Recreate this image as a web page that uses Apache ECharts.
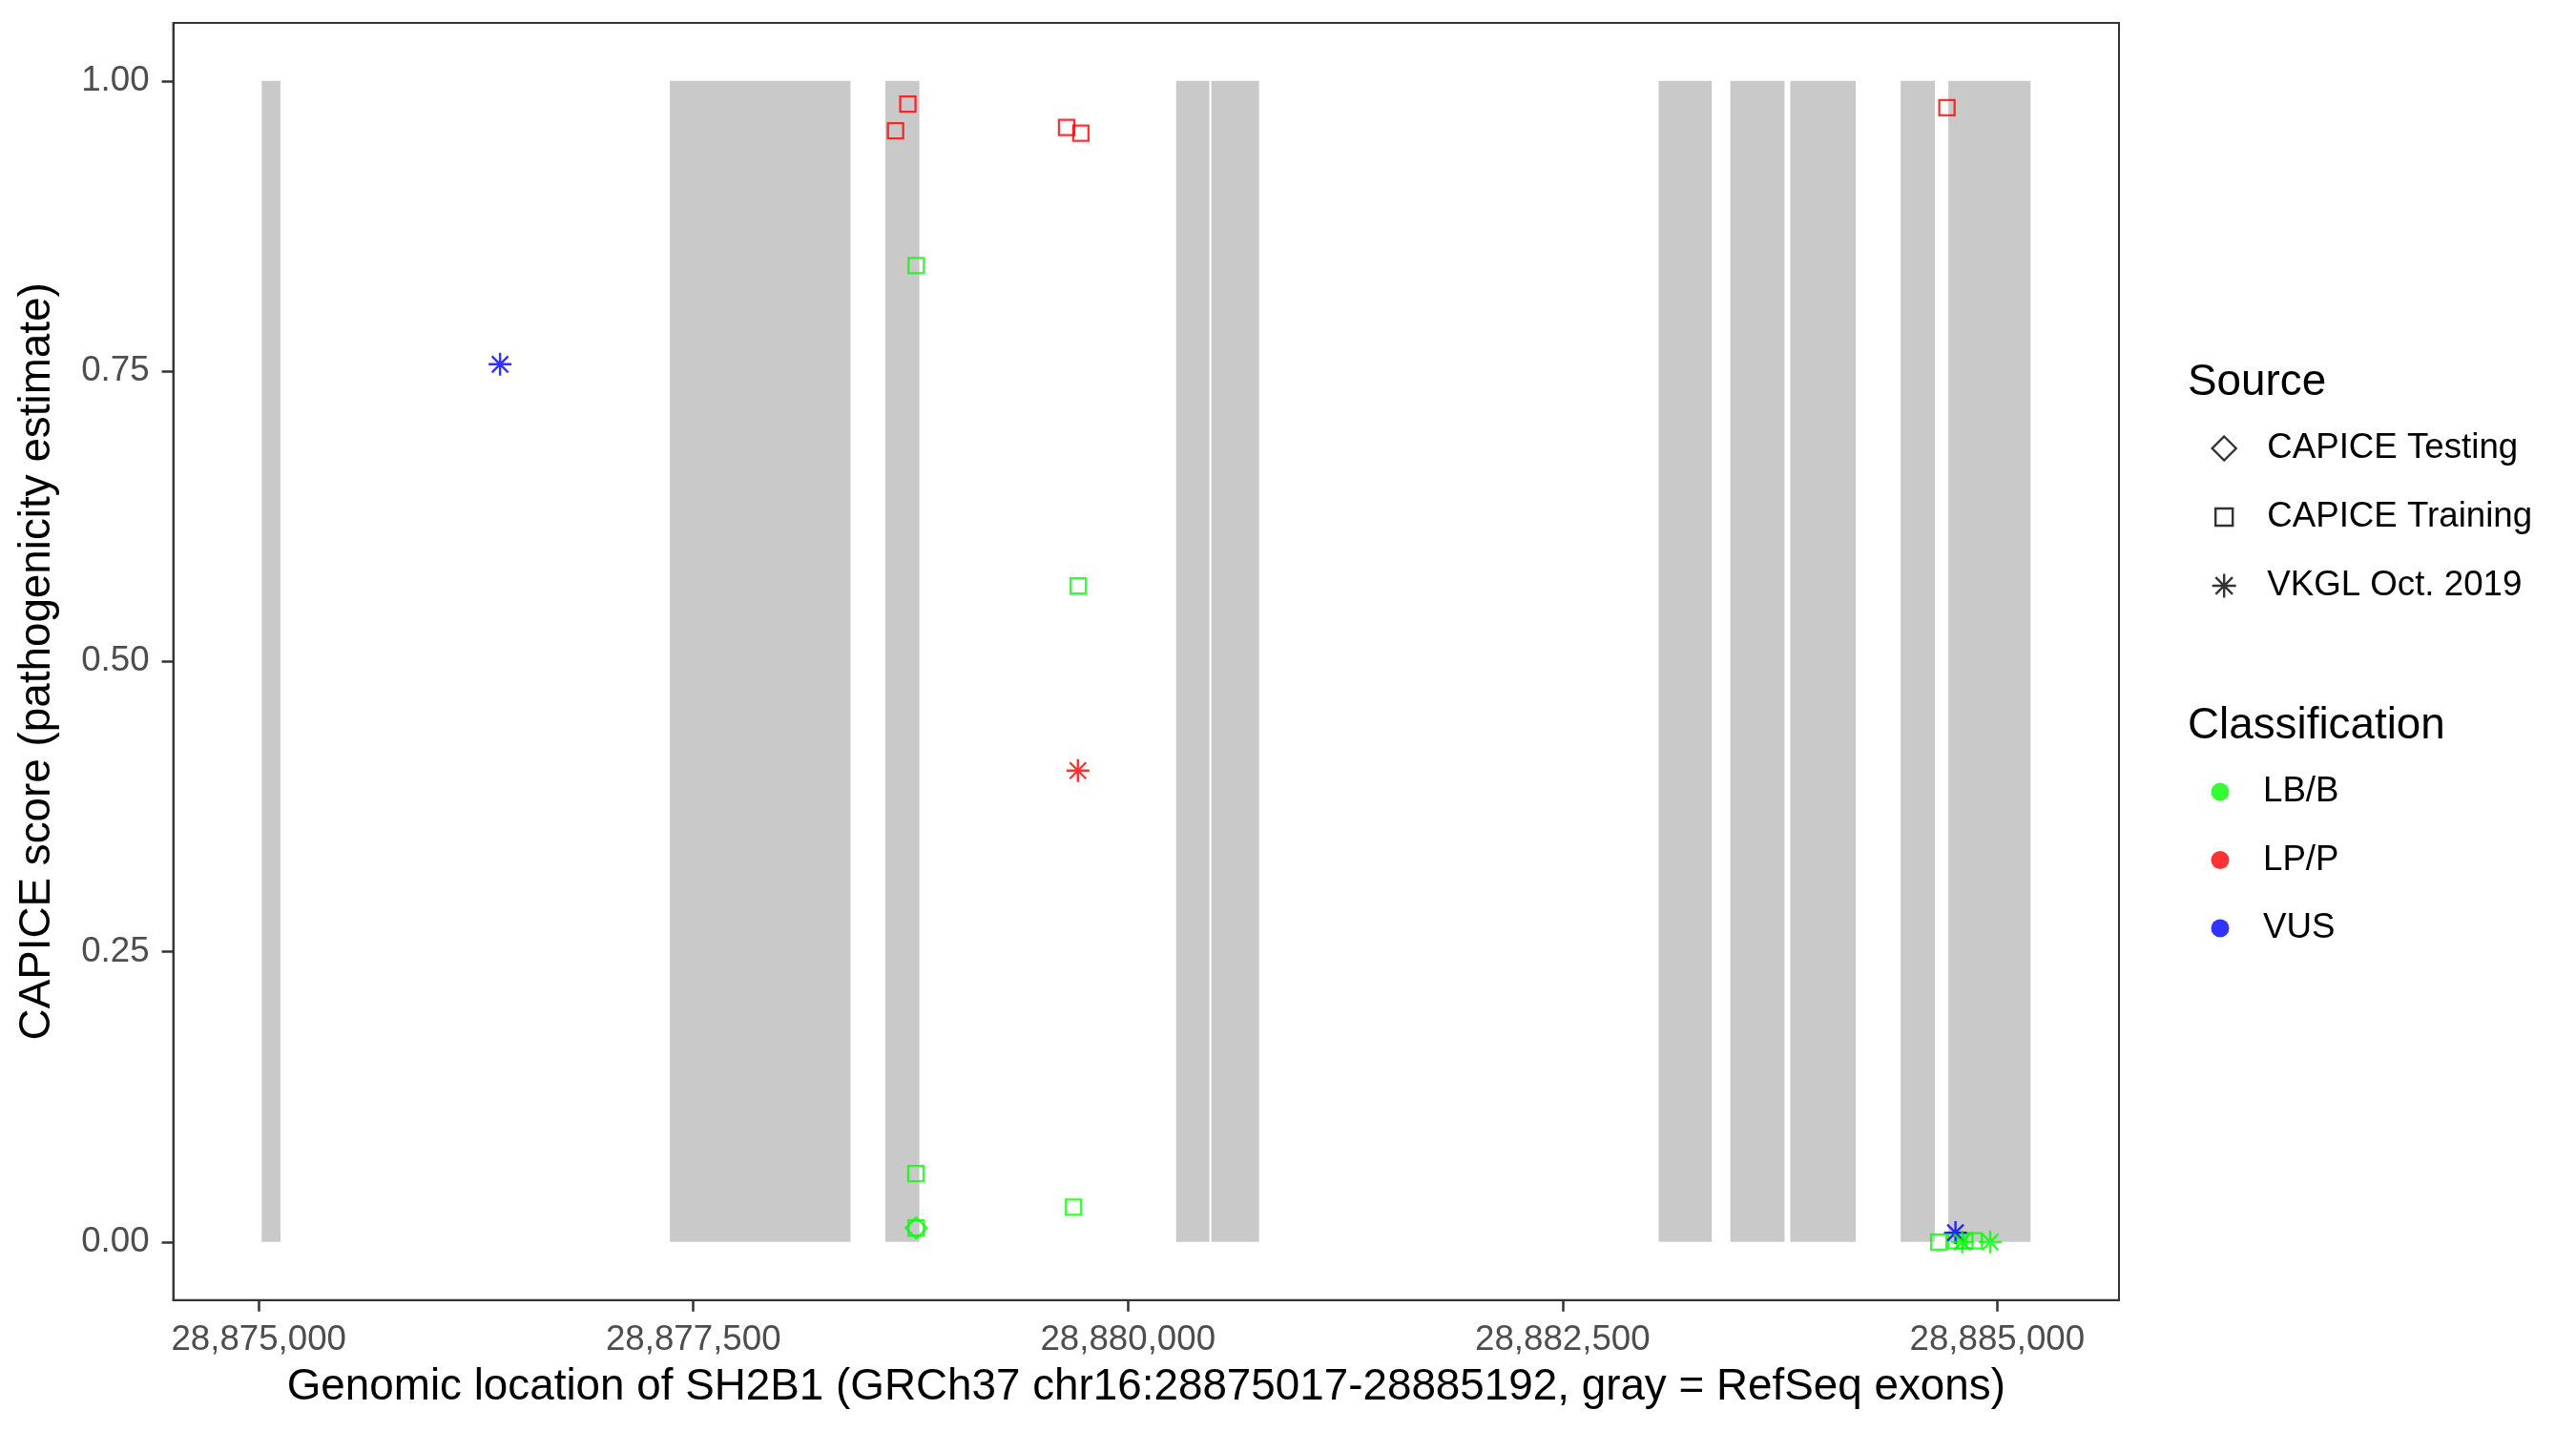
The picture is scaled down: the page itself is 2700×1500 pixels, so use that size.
<!DOCTYPE html>
<html>
<head>
<meta charset="utf-8">
<script src="https://cdn.jsdelivr.net/npm/echarts@6/dist/echarts.min.js"></script>
<style>
  html, body { margin: 0; padding: 0; background: #fff; }
  #chart { width: 2700px; height: 1500px; }
</style>
</head>
<body>
<div id="chart"></div>
<script>
// ---- Data ----
const exonStart = [28875017, 28877365, 28878604, 28880277, 28880480, 28883053, 28883465, 28883810, 28884445, 28884719];
const exonEnd   = [28875125, 28878404, 28878800, 28880468, 28880754, 28883358, 28883777, 28884186, 28884642, 28885192];

const xTicks = [28875000, 28877500, 28880000, 28882500, 28885000];
const yTicks = [0, 0.25, 0.5, 0.75, 1];

const trainingPos   = [28878663, 28878734, 28879647, 28879729, 28884711, 28878782, 28878780, 28878782, 28879687, 28879714, 28884664, 28884763, 28884814, 28884868];
const trainingScore = [0.957, 0.980, 0.960, 0.955, 0.977, 0.841, 0.059, 0.012, 0.030, 0.565, 0.000, 0.001, 0.001, 0.001];
const trainingClass = ['LP/P', 'LP/P', 'LP/P', 'LP/P', 'LP/P', 'LB/B', 'LB/B', 'LB/B', 'LB/B', 'LB/B', 'LB/B', 'LB/B', 'LB/B', 'LB/B'];

const testingPos   = [28878782];
const testingScore = [0.012];
const testingClass = ['LB/B'];

const vkglPos   = [28876388, 28879712, 28884760, 28884799, 28884960];
const vkglScore = [0.756, 0.406, 0.008, 0.000, 0.000];
const vkglClass = ['VUS', 'LP/P', 'VUS', 'LB/B', 'LB/B'];

const classNames = ['LB/B', 'LP/P', 'VUS'];
const sourceNames = ['CAPICE Testing', 'CAPICE Training', 'VKGL Oct. 2019'];

// ---- Styles ----
const classColor = { 'LB/B': '#00FF00', 'LP/P': '#FF0000', 'VUS': '#0000FF' };
const FONT = '"Liberation Sans", Arial, Helvetica, sans-serif';
const ASTERISK = 'path://M0,5L10,5M5,0L5,10M1.464,1.464L8.536,8.536M1.464,8.536L8.536,1.464';
const sourceIcon = { 'CAPICE Testing': 'diamond', 'CAPICE Training': 'rect', 'VKGL Oct. 2019': ASTERISK };
const sourceIconSize = { 'CAPICE Testing': 25, 'CAPICE Training': 18, 'VKGL Oct. 2019': 25 };
const sourceLegendTop = { 'CAPICE Testing': 445, 'CAPICE Training': 517, 'VKGL Oct. 2019': 589 };

const dataMin = Math.min.apply(null, exonStart);
const dataMax = Math.max.apply(null, exonEnd);
const pad = (dataMax - dataMin) * 0.05;
const xMin = dataMin - pad, xMax = dataMax + pad;

function pts(pos, score, cls, bw) {
  return pos.map((p, i) => ({
    value: [p, score[i]],
    itemStyle: { color: 'rgba(0,0,0,0)', borderColor: classColor[cls[i]], borderWidth: bw }
  }));
}

const sourceLegends = sourceNames.map(n => {
  const w = sourceIconSize[n];
  return {
    orient: 'vertical', left: 2330 - 5 - w / 2, top: sourceLegendTop[n],
    itemWidth: w, itemHeight: w, selectedMode: false,
    textStyle: { fontSize: 36.7, color: '#000', fontFamily: FONT, lineHeight: 40,
                 padding: [0, 0, 0, 2375 - (2330 - w / 2 + w + 5)] },
    data: [{ name: n, icon: sourceIcon[n],
             itemStyle: { color: 'rgba(0,0,0,0)', borderColor: '#000', borderWidth: 2.4 } }]
  };
});

const axisLineStyle = { show: true, onZero: false, lineStyle: { color: '#333333', width: 2 } };
const tickStyle = { color: '#333333', width: 2.5 };

const chart = echarts.init(document.getElementById('chart'), null, { renderer: 'canvas' });

const option = {
  animation: false,
  backgroundColor: '#ffffff',
  grid: {
    left: 181.6, top: 24, width: 2039.4, height: 1338.7,
    show: true, borderColor: '#333333', borderWidth: 2, backgroundColor: 'transparent',
    containLabel: false
  },
  xAxis: {
    type: 'value', min: xMin, max: xMax, position: 'bottom',
    splitLine: { show: false },
    axisLine: axisLineStyle,
    axisTick: { show: true, inside: false, length: 12, lineStyle: tickStyle, customValues: xTicks },
    axisLabel: {
      customValues: xTicks, color: '#4D4D4D', fontSize: 36.7, fontFamily: FONT, margin: 24,
      formatter: v => Math.round(v).toLocaleString('en-US')
    },
    name: 'Genomic location of SH2B1 (GRCh37 chr16:28875017-28885192, gray = RefSeq exons)',
    nameLocation: 'middle', nameGap: 69,
    nameTextStyle: { fontSize: 45.8, color: '#000', fontFamily: FONT }
  },
  yAxis: {
    type: 'value', min: -0.05, max: 1.05, position: 'left',
    splitLine: { show: false },
    axisLine: axisLineStyle,
    axisTick: { show: true, inside: false, length: 12, lineStyle: tickStyle, customValues: yTicks },
    axisLabel: {
      customValues: yTicks, color: '#4D4D4D', fontSize: 36.7, fontFamily: FONT, margin: 25,
      formatter: v => v.toFixed(2)
    },
    name: 'CAPICE score (pathogenicity estimate)',
    nameLocation: 'middle', nameGap: 119,
    nameTextStyle: { fontSize: 45.8, color: '#000', fontFamily: FONT }
  },
  legend: sourceLegends.concat([
    {
      orient: 'vertical', left: 2330 - 5 - 12.5, top: 805,
      itemWidth: 25, itemHeight: 19, itemGap: 31.5, selectedMode: false,
      textStyle: { fontSize: 36.7, color: '#000', fontFamily: FONT, lineHeight: 40, padding: [0, 0, 0, 27.5] },
      data: classNames.map(n => ({ name: n, icon: 'circle', itemStyle: { color: classColor[n], borderWidth: 0 } }))
    }
  ]),
  graphic: [
    { type: 'text', left: 2293, top: 378, style: { text: 'Source', fontSize: 45.8, fill: '#000', fontFamily: FONT } },
    { type: 'text', left: 2293, top: 738, style: { text: 'Classification', fontSize: 45.8, fill: '#000', fontFamily: FONT } }
  ],
  series: [
    {
      type: 'custom', name: 'exons', z: 1, silent: true,
      data: exonStart.map((s, i) => [s, exonEnd[i]]),
      renderItem: function (params, api) {
        const p0 = api.coord([api.value(0), 0]);
        const p1 = api.coord([api.value(1), 1]);
        return {
          type: 'rect',
          shape: { x: p0[0], y: p1[1], width: p1[0] - p0[0], height: p0[1] - p1[1] },
          style: { fill: '#C9C9C9' }
        };
      }
    },
    {
      type: 'scatter', name: 'CAPICE Training', z: 3, symbol: 'rect', symbolSize: 16,
      itemStyle: { color: 'rgba(0,0,0,0)', borderColor: '#000', borderWidth: 2.3 },
      data: pts(trainingPos, trainingScore, trainingClass, 2.3)
    },
    {
      type: 'scatter', name: 'CAPICE Testing', z: 3, symbol: 'diamond', symbolSize: 22,
      itemStyle: { color: 'rgba(0,0,0,0)', borderColor: '#000', borderWidth: 2.3 },
      data: pts(testingPos, testingScore, testingClass, 2.3)
    },
    {
      type: 'scatter', name: 'VKGL Oct. 2019', z: 3, symbol: ASTERISK, symbolSize: 24,
      itemStyle: { color: 'rgba(0,0,0,0)', borderColor: '#000', borderWidth: 2.4 },
      data: pts(vkglPos, vkglScore, vkglClass, 2.4)
    }
  ].concat(classNames.map(n => ({
    type: 'scatter', name: n, data: [], symbol: 'circle', itemStyle: { color: classColor[n] }
  })))
};

chart.setOption(option);
</script>
</body>
</html>
